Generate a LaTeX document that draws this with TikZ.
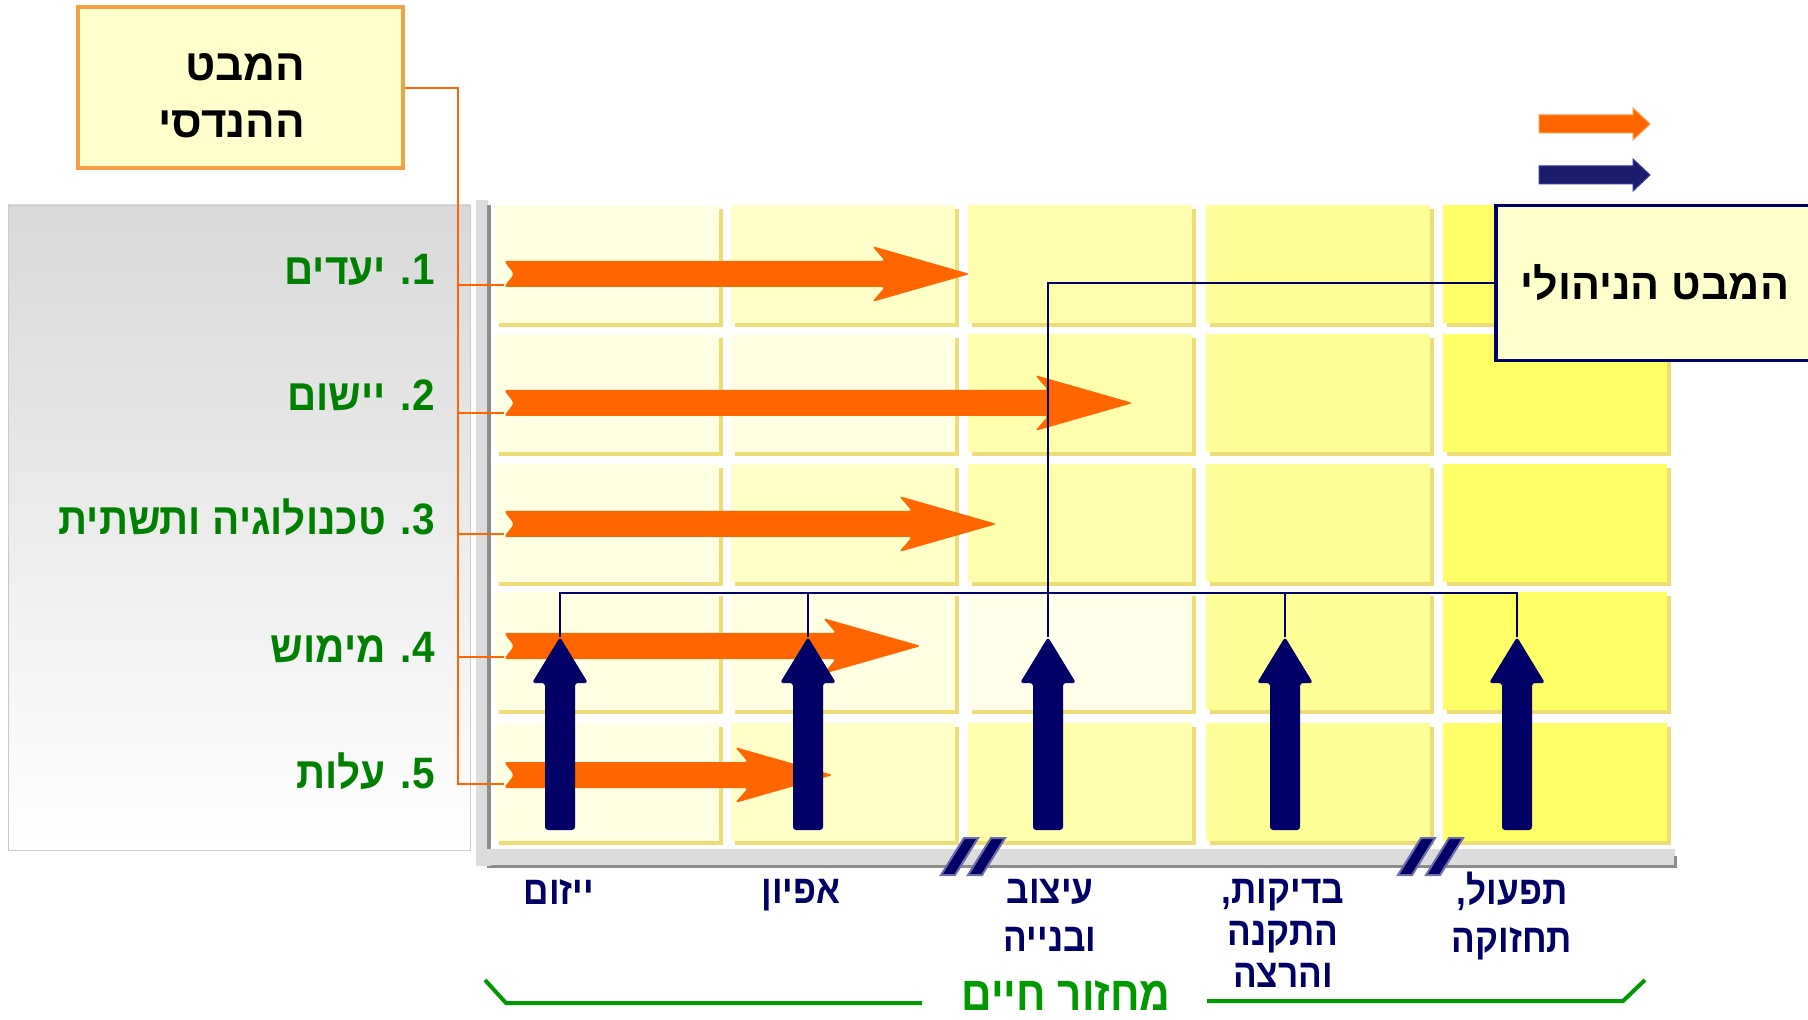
\documentclass[tikz,border=0pt]{standalone}
\usepackage{fontspec}
\setmainfont{Liberation Sans}
\newfontfamily\hebfont[Script=Hebrew]{Liberation Sans}
\newfontfamily\hebgoal[Script=Hebrew,FakeStretch=0.92]{Liberation Sans}
\newfontfamily\hebnarrow[Script=Hebrew,FakeStretch=0.88]{Liberation Sans}
\TeXXeTstate=1
\usetikzlibrary{positioning}
\definecolor{garrowc}{HTML}{FF6600}
\definecolor{garrowedge}{HTML}{FF9A40}
\definecolor{navyc}{HTML}{000066}
\definecolor{legnavy}{HTML}{1C1C6E}
\definecolor{legnavyedge}{HTML}{3838A8}
\definecolor{slashedge}{HTML}{6C6CA8}
\definecolor{greenlab}{HTML}{008000}
\definecolor{greenbr}{HTML}{009900}
\definecolor{boxfill}{HTML}{FFFFCC}
\definecolor{boxedge}{HTML}{F4A040}
\definecolor{panelgrey}{HTML}{D9D9D9}
\definecolor{panelline}{HTML}{CACACA}
\definecolor{axisgrey}{HTML}{DCDCDC}
\definecolor{axisdark}{HTML}{8C8C8C}
\definecolor{cA}{HTML}{FFFFE4}
\definecolor{cB}{HTML}{FFFFCA}
\definecolor{cC}{HTML}{FFFFAE}
\definecolor{cD}{HTML}{FFFF98}
\definecolor{cE}{HTML}{FFFF66}
\definecolor{cPale}{HTML}{FFFFEC}
\definecolor{cshadow}{HTML}{EEDC77}
\tikzset{
    engbox/.style={draw=boxedge,line width=2pt,fill=boxfill,minimum width=162.5pt,minimum height=80.5pt,align=right,
        font=\hebfont\bfseries\fontsize{22pt}{28.5pt}\selectfont},
    mgmtbox/.style={draw=navyc,line width=1.75pt,fill=boxfill,minimum width=159pt,minimum height=77.5pt,anchor=west,
        font=\hebfont\bfseries\fontsize{21.5pt}{24pt}\selectfont},
    goal/.style={anchor=base east,text=greenlab,font=\hebgoal\bfseries\fontsize{22pt}{28pt}\selectfont},
    phase/.style={anchor=north,text=navyc,align=center,font=\hebnarrow\bfseries\fontsize{20pt}{21pt}\selectfont},
    cycle label/.style={anchor=base,text=greenbr,font=\hebnarrow\bfseries\fontsize{24pt}{28pt}\selectfont},
    garrow/.style={fill=garrowc,rounded corners=1.5pt},
    parrow/.style={fill=navyc,rounded corners=1.5pt},
    oline/.style={draw=garrowc,line width=1pt},
    mline/.style={draw=navyc,line width=1pt},
    slash/.style={fill=navyc,draw=slashedge,line width=1pt},
    bracket/.style={draw=greenbr,line width=2pt},
}
% orange bar: name, y centre, tip x, y of its feed line
\newcommand\ganttbar[4]{%
    \coordinate (#1) at (504,#4);
    \fill[garrow] (504,#2-13) -- (514,#2) -- (504,#2+13) -- (#3-85,#2+13) -- (#3-98,#2+28) -- (#3,#2)
        -- (#3-98,#2-28) -- (#3-85,#2-13) -- cycle;}
% navy phase arrow: name, x
\newcommand\phasearrow[2]{%
    \coordinate (#1) at (#2,637);
    \fill[parrow] (#2-15,830) -- (#2-15,683) -- (#2-28,683) -- (#2,637) -- (#2+28,683) -- (#2+15,683)
        -- (#2+15,830) -- cycle;}
\newcommand\breakslash[1]{\filldraw[slash] (#1,875) -- (#1+14,875) -- (#1+37,838) -- (#1+23,838) -- cycle;}

\begin{document}
\begin{tikzpicture}[x=0.5pt,y=-0.5pt,every node/.style={inner sep=0pt}]
    \useasboundingbox (0,0) rectangle (1808,1020);

    % left panel and axes
    \shade[top color=panelgrey,bottom color=white] (8,205) rectangle (470,850);
    \draw[panelline] (8,205) rectangle (470,850);
    \fill[axisgrey] (476,200) rectangle (488,866);
    \fill[axisdark] (487,205) rectangle (491,868);
    \fill[axisgrey] (476,849) rectangle (1675,866);
    \fill[axisdark] (491,865) rectangle (1677,868);
    \fill[axisdark] (1674,856) rectangle (1677,868);

    % grid of cells
    \foreach \x/\cl in {495/cA,731/cB,968/cC,1206/cD,1443/cE}
        \foreach \y in {205,334,464,592,723} {
            \fill[cshadow] (\x+4,\y+4) rectangle (\x+228,\y+122);
            \fill[\cl] (\x,\y) rectangle (\x+224,\y+118);
        }
    \fill[cA] (731,334) rectangle (955,452);
    \fill[cA] (731,592) rectangle (955,710);
    \fill[cPale] (968,592) rectangle (1192,710);

    % boxes
    \node[engbox] (eng) at (240,88) {\rule{0pt}{21pt}\beginR המבט\endR\kern8pt\\\beginR ההנדסי\endR\kern8pt};
    \node[mgmtbox] (mgmt) at (1494,283) {\beginR המבט הניהולי\endR};

    % engineering view
    \ganttbar{o1}{274}{970}{285}
    \ganttbar{o2}{403}{1133}{413}
    \ganttbar{o3}{524}{997}{534}
    \ganttbar{o4}{646}{921}{657}
    \ganttbar{o5}{775}{833}{784}
    \draw[oline] (eng.east) -- ++(53,0) coordinate (spine) |- (o5);
    \foreach \i in {1,...,4}
        \draw[oline] (spine |- o\i) -- (o\i);

    % management view
    \phasearrow{n1}{560}
    \phasearrow{n2}{808}
    \phasearrow{n3}{1048}
    \phasearrow{n4}{1285}
    \phasearrow{n5}{1517}
    \coordinate (bus) at (0,593);
    \draw[mline] (mgmt.west) -| (n3);
    \draw[mline] (n1) |- (bus -| n5) -- (n5);
    \foreach \i in {2,4}
        \draw[mline] (n\i) -- (n\i |- bus);

    % goals
    \foreach \i/\yb/\t in {1/285/{1. יעדים},2/411/{2. יישום},3/535/{3. טכנולוגיה ותשתית},4/662/{4. מימוש},5/788/{5. עלות}}
        \node[goal] (g\i) at (435,\yb) {\beginR\t\endR};

    % phases
    \node[phase] (p1) at (559,879) {\beginR ייזום\endR};
    \node[phase] (p2) at (801,879) {\beginR אפיון\endR};
    \node[phase] (p3) at (1050,879) {\beginR עיצוב\endR\\[3pt]\beginR ובנייה\endR};
    \node[phase] (p4) at (1283,879) {\beginR בדיקות,\endR\\\beginR התקנה\endR\\\beginR והרצה\endR};
    \node[phase] (p5) at (1512,872) {\beginR תפעול,\endR\\[3pt]\beginR תחזוקה\endR};
    \breakslash{941}
    \breakslash{968}
    \breakslash{1398}
    \breakslash{1426}

    % life cycle
    \node[cycle label] (life) at (1066,1010) {\beginR מחזור חיים\endR};
    \draw[bracket] (485,980) -- (506,1003) -- (922,1003);
    \draw[bracket] (1207,1001) -- (1623,1001) -- (1645,980);

    % legend
    \filldraw[fill=garrowc,draw=garrowedge,line width=0.5pt] (1539,115) -- (1633,115) -- (1633,108) -- (1650,124)
        -- (1633,140) -- (1633,133) -- (1539,133) -- cycle;
    \filldraw[fill=legnavy,draw=legnavyedge,line width=0.5pt] (1539,166) -- (1633,166) -- (1633,159) -- (1650,175)
        -- (1633,191) -- (1633,184) -- (1539,184) -- cycle;
\end{tikzpicture}
\end{document}
